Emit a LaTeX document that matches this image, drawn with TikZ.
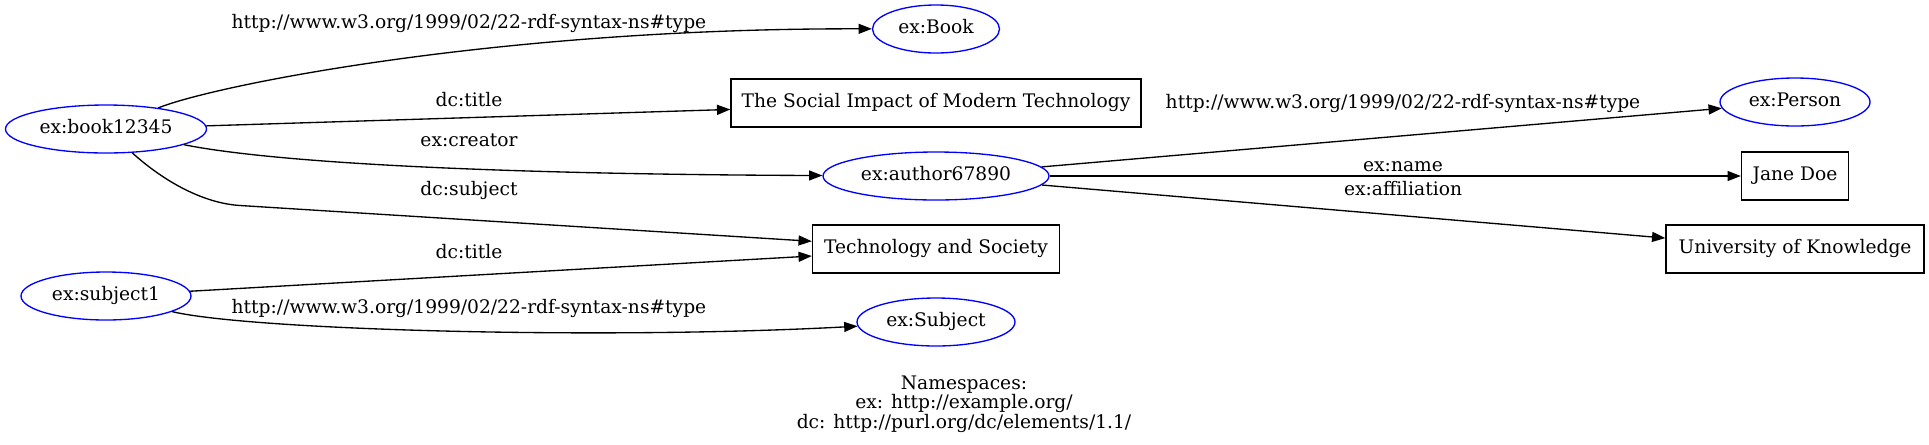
\documentclass[tikz,border=0pt]{standalone}
\usepackage{fontspec}
\setmainfont{DejaVu Serif}
\usetikzlibrary{shapes.geometric,arrows.meta}
\newdimen\pu \pu=0.75pt
\begin{document}
\begin{tikzpicture}[x=0.75pt,y=-0.75pt,
  font=\fontsize{14}{16.8}\selectfont,
  ell/.style={ellipse, draw=blue, line width=1pt, inner sep=0pt, minimum height=48\pu, text height=10pt, text depth=3.6pt},
  box/.style={rectangle, draw=black, line width=1pt, inner sep=0pt, minimum height=48\pu, text height=10pt, text depth=3.6pt},
  lab/.style={anchor=base, inner sep=0pt},
  link/.style={line width=1pt, -{Triangle[length=10pt,width=7.5pt]}}]
\useasboundingbox (0,0) rectangle (1929,444);
% nodes
\node[ell, minimum width=201\pu] (book) at (106,129) {ex:book12345};
\node[ell, minimum width=127\pu] (Book) at (936,29) {ex:Book};
\node[box, minimum width=410\pu] (social) at (936,103) {The Social Impact of Modern Technology};
\node[ell, minimum width=226\pu] (author) at (936,176) {ex:author67890};
\node[box, minimum width=247\pu] (tech) at (936,249) {Technology and Society};
\node[ell, minimum width=170\pu] (subj1) at (106,296) {ex:subject1};
\node[ell, minimum width=158\pu] (Subject) at (936,322) {ex:Subject};
\node[ell, minimum width=150\pu] (person) at (1795,102) {ex:Person};
\node[box, minimum width=107\pu] (jane) at (1795,176) {Jane Doe};
\node[box, minimum width=258\pu] (univ) at (1795,249) {University of Knowledge};
% edges
\draw[link] (book) .. controls (215,85) and (500,28) .. (Book);
\draw[link] (book) -- (social);
\draw[link] (book) .. controls (260,160) and (450,174) .. (author);
\draw[link] (book) .. controls (160,178) and (200,203) .. (240,205.5) -- (tech);
\draw[link] (subj1) -- (tech);
\draw[link] (subj1) .. controls (250,330) and (600,340) .. (Subject);
\draw[link] (author) -- (person);
\draw[link] (author) -- (jane);
\draw[link] (author) -- (univ);
% edge labels
\node[lab] (l1) at (469,28.3) {http://www.w3.org/1999/02/22-rdf-syntax-ns\#type};
\node[lab] (l2) at (469,106) {dc:title};
\node[lab] (l3) at (469,146) {ex:creator};
\node[lab] (l4) at (469,195.7) {dc:subject};
\node[lab] (l5) at (469,258) {dc:title};
\node[lab] (l6) at (469,313) {http://www.w3.org/1999/02/22-rdf-syntax-ns\#type};
\node[lab] (l7) at (1403,108) {http://www.w3.org/1999/02/22-rdf-syntax-ns\#type};
\node[lab] (l8) at (1403,171) {ex:name};
\node[lab] (l9) at (1403,195) {ex:affiliation};
% namespaces
\node[lab] (ns1) at (964,389.3) {Namespaces:};
\node[lab] (ns2) at (964,408.3) {ex: http://example.org/};
\node[lab] (ns3) at (964,428.3) {dc: http://purl.org/dc/elements/1.1/};
\end{tikzpicture}
\end{document}
